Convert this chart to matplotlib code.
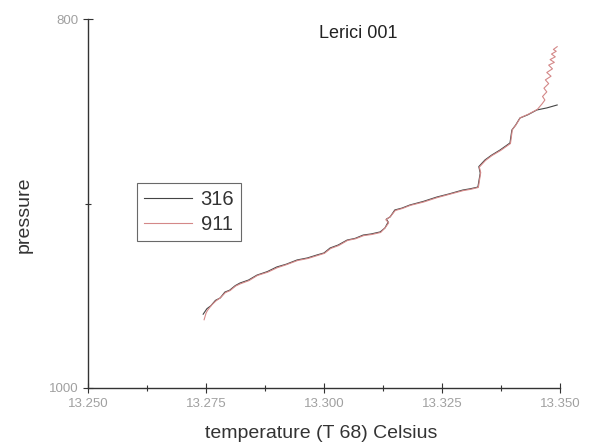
import matplotlib
matplotlib.use("Agg")
import matplotlib.pyplot as plt
from matplotlib.ticker import MultipleLocator, FixedLocator

plt.rcParams["font.family"] = ["Liberation Sans", "DejaVu Sans"]

# Series 316 (black)
t316 = [13.2744, 13.2752, 13.2760, 13.2770, 13.2780, 13.2790, 13.2800, 13.2812, 13.2822,
        13.2840, 13.2858, 13.2880, 13.2900, 13.2920, 13.2943, 13.2965, 13.2985, 13.3000,
        13.3013, 13.3030, 13.3049, 13.3066, 13.3083, 13.3100, 13.3119, 13.3129, 13.3136,
        13.3132, 13.3140, 13.3150, 13.3165, 13.3182, 13.3210, 13.3239, 13.3265, 13.3294,
        13.3310, 13.3326, 13.3331, 13.3328, 13.3341, 13.3355, 13.3373, 13.3394, 13.3398,
        13.3406, 13.3415, 13.3432, 13.3451, 13.3472, 13.3494]
p316 = [960.0, 957.0, 955.5, 952.5, 951.2, 948.0, 947.0, 944.5, 943.1,
        941.5, 938.8, 936.9, 934.4, 932.9, 930.6, 929.5, 927.9, 926.8,
        924.1, 922.5, 919.8, 918.9, 917.1, 916.5, 915.4, 913.3, 910.0,
        908.5, 907.3, 903.5, 902.5, 900.8, 898.9, 896.5, 894.8, 892.7,
        892.0, 891.1, 883.5, 880.0, 876.4, 873.8, 871.0, 867.2, 860.2,
        857.5, 853.7, 851.9, 849.3, 848.2, 846.6]

# Series 911 (red)
t911 = [13.2746, 13.2750, 13.2753, 13.2762, 13.2771, 13.2781, 13.2791, 13.2801, 13.2813,
        13.2823, 13.2841, 13.2859, 13.2881, 13.2901, 13.2921, 13.2944, 13.2966, 13.2986,
        13.3001, 13.3014, 13.3031, 13.3050, 13.3067, 13.3084, 13.3101, 13.3120, 13.3130,
        13.3137, 13.3131, 13.3141, 13.3151, 13.3166, 13.3183, 13.3211, 13.3240, 13.3266,
        13.3295, 13.3311, 13.3327, 13.3332, 13.3329, 13.3342, 13.3356, 13.3374, 13.3395,
        13.3399, 13.3407, 13.3416, 13.3433, 13.3452, 13.3462, 13.3468, 13.3463, 13.3472,
        13.3466, 13.3476, 13.3469, 13.3481, 13.3472, 13.3484, 13.3476, 13.3488, 13.3479,
        13.3490, 13.3482, 13.3492, 13.3486, 13.3494]
p911 = [963.0, 959.5, 958.0, 955.0, 952.8, 951.0, 948.3, 947.2, 944.7,
        943.5, 941.8, 939.0, 937.2, 934.8, 933.1, 930.9, 929.8, 928.2,
        927.0, 924.4, 922.8, 920.0, 919.1, 917.4, 916.8, 915.7, 913.0,
        910.5, 908.8, 907.0, 903.8, 902.7, 901.0, 899.2, 896.8, 895.0,
        893.0, 892.3, 891.3, 883.2, 880.3, 876.7, 874.0, 871.3, 867.5,
        860.0, 857.3, 853.5, 851.6, 849.0, 846.0, 843.9, 842.0, 839.5,
        837.5, 835.0, 833.0, 831.0, 829.0, 827.0, 825.0, 823.5, 822.0,
        820.5, 819.0, 817.5, 816.5, 815.0]

fig = plt.figure(figsize=(5.91, 4.47), dpi=100)
ax = fig.add_axes([88/591, 1 - 388/447, (560 - 88)/591, (388 - 19)/447])

ax.plot(t316, p316, color="#444444", lw=0.8, label="316")
ax.plot(t911, p911, color="#d48888", lw=0.8, label="911")

ax.set_xlim(13.25, 13.35)
ax.set_ylim(1000, 800)

ax.spines["top"].set_visible(False)
ax.spines["right"].set_visible(False)
for s in ("left", "bottom"):
    ax.spines[s].set_linewidth(1.0)
    ax.spines[s].set_color("#333333")

ax.xaxis.set_major_locator(MultipleLocator(0.025))
ax.xaxis.set_minor_locator(MultipleLocator(0.0125))
ax.yaxis.set_major_locator(FixedLocator([800, 1000]))
ax.yaxis.set_minor_locator(FixedLocator([900]))
ax.xaxis.set_major_formatter(plt.FuncFormatter(lambda v, p: f"{v:.3f}"))
ax.tick_params(which="major", direction="inout", length=7, width=0.8, labelsize=9.5,
               labelcolor="#a0a0a0", color="#333333")
ax.tick_params(axis="x", which="major", pad=4)
ax.tick_params(axis="y", which="major", pad=3)
ax.tick_params(which="minor", direction="inout", length=4, width=0.8, color="#333333")

ax.set_xlabel("temperature (T 68) Celsius", fontsize=14, color="#333333")
ax.set_ylabel("pressure", fontsize=14, color="#333333")
ax.xaxis.set_label_coords(0.494, -0.100)
ax.yaxis.set_label_coords(-0.118, 0.469)

ax.text(0.572, 0.962, "Lerici 001", transform=ax.transAxes, ha="center", va="center",
        fontsize=13, color="#222222")

leg = ax.legend(loc="upper left", bbox_to_anchor=(0.104, 0.5556), fontsize=14.5,
                frameon=True, fancybox=False, handlelength=2.4, borderpad=0.35,
                labelspacing=0.3, handletextpad=0.4, borderaxespad=0)
leg.get_frame().set_edgecolor("#444444")
leg.get_frame().set_linewidth(0.8)
for txt in leg.get_texts():
    txt.set_color("#333333")

fig.savefig("out.png", dpi=100)
